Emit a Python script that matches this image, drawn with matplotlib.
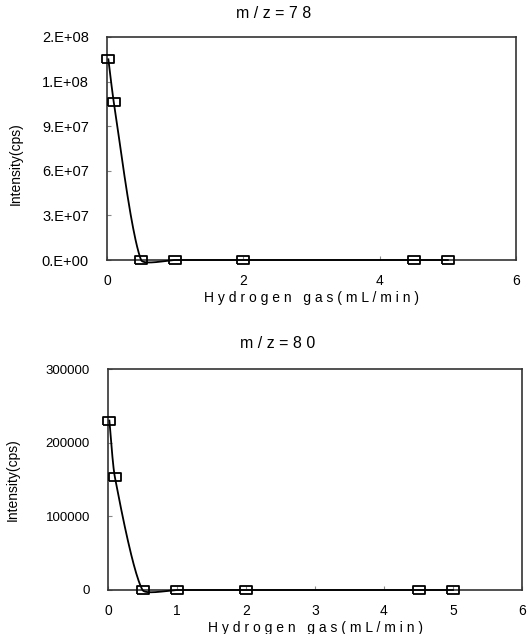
import numpy as np
import matplotlib.pyplot as plt

plt.rcParams['font.family'] = ['Liberation Sans', 'DejaVu Sans']

# hydrogen gas flow (mL/min)
h2_flow = [0.02, 0.1, 0.5, 1, 2, 4.5, 5]

# intensities (cps)
mz78 = [1.35e8, 1.06e8, 0, 0, 0, 0, 0]
mz80 = [230000, 153000, 0, 0, 0, 0, 0]

top_yticks = [0, 3e7, 6e7, 9e7, 1.2e8, 1.5e8]
top_ylabels = ["0.E+00", "3.E+07", "6.E+07", "9.E+07", "1.E+08", "2.E+08"]
bot_yticks = [0, 100000, 200000, 300000]
bot_ylabels = ["0", "100000", "200000", "300000"]


def smooth(x, y, sx, sy, n=40, k=0.2):
    # smoothed line like the spreadsheet one, tangents weighted by chord length
    p = np.column_stack([np.asarray(x, float) * sx, np.asarray(y, float) * sy])
    p = np.vstack([p[0], p, p[-1]])
    d = np.linalg.norm(np.diff(p, axis=0), axis=1)
    t = np.linspace(0, 1, n)[:, None]
    out = []
    for i in range(1, len(p) - 2):
        p0, p3 = p[i], p[i + 1]
        dl, dc, dr = d[i - 1], d[i], d[i + 1]
        w1 = dc / (dl + dc) * k if dl + dc > 0 else 0
        w2 = dc / (dc + dr) * k if dc + dr > 0 else 0
        p1 = p0 + (p[i + 1] - p[i - 1]) * w1
        p2 = p3 - (p[i + 2] - p[i]) * w2
        b = (1 - t) ** 3 * p0 + 3 * (1 - t) ** 2 * t * p1 + 3 * (1 - t) * t ** 2 * p2 + t ** 3 * p3
        out.append(b)
    out = np.vstack(out)
    return out[:, 0] / sx, out[:, 1] / sy


box = [(-1.5, -1), (1.5, -1), (1.5, 1), (-1.5, 1), (-1.5, -1)]

fig = plt.figure(figsize=(5.32, 6.34), dpi=100)
ax1 = fig.add_axes([107 / 532, 1 - 260 / 634, 409 / 532, 223 / 634])
ax2 = fig.add_axes([108 / 532, 1 - 590 / 634, 414 / 532, 221 / 634])

for ax, y, yt, yl, xt, ys in [(ax1, mz78, top_yticks, top_ylabels, [0, 2, 4, 6], 10.5),
                              (ax2, mz80, bot_yticks, bot_ylabels, [0, 1, 2, 3, 4, 5, 6], 9.5)]:
    sx, sy = smooth(h2_flow, y, 409 / 6, 223 / yt[-1])
    ax.plot(sx, sy, color='black', lw=1.3, clip_on=False, zorder=3)
    ax.plot(h2_flow, y, linestyle='none', marker=box, markersize=9,
            markerfacecolor='none', markeredgecolor='black', markeredgewidth=1.3,
            clip_on=False, zorder=4)
    ax.set_xlim(0, 6)
    ax.set_ylim(0, yt[-1])
    ax.set_xticks(xt)
    ax.set_yticks(yt)
    ax.set_yticklabels(yl)
    ax.tick_params(direction='in', length=3, width=0.8, colors='#888888',
                   labelcolor='black', labelsize=10)
    ax.tick_params(axis='y', pad=13, labelsize=ys)
    ax.tick_params(axis='x', pad=10)
    for s in ax.spines.values():
        s.set_linewidth(1.2)
        s.set_color('#333333')
    ax.set_ylabel("Intensity(cps)", fontsize=10)

ax1.yaxis.set_label_coords(-0.205, 0.43)
ax2.yaxis.set_label_coords(-0.212, 0.5)
ax1.set_xlabel("H y d r o g e n   g a s ( m L / m i n )", fontsize=10, labelpad=2)
ax2.set_xlabel("H y d r o g e n   g a s ( m L / m i n )", fontsize=10, labelpad=2)

fig.text(274 / 532, 1 - 14 / 634, "m / z = 7 8", ha='center', va='center', fontsize=11.5)
fig.text(278 / 532, 1 - 344 / 634, "m / z = 8 0", ha='center', va='center', fontsize=11.5)

fig.savefig("out.png", dpi=100)
